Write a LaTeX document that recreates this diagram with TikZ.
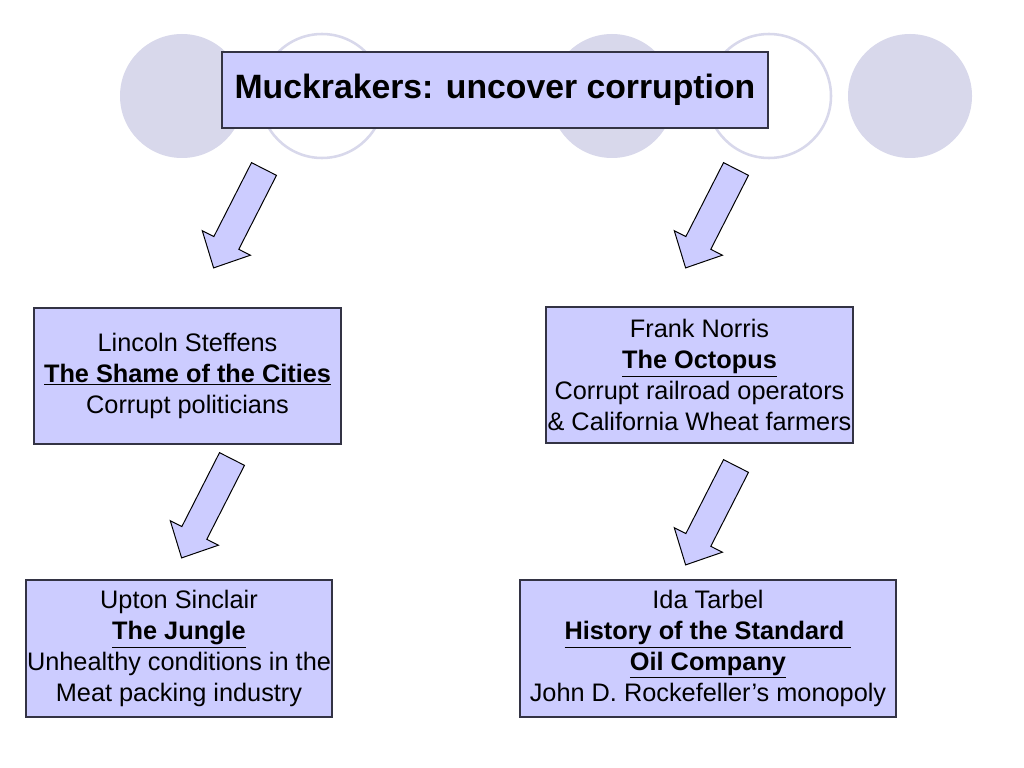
\documentclass[tikz,border=0pt]{standalone}
\usepackage{fontspec}
\setmainfont{Liberation Sans}
\usepackage{xcolor}
\usepackage{tikz}

\definecolor{cerchio}{RGB}{216,216,235}
\definecolor{riquadro}{RGB}{204,204,255}
\definecolor{bordo}{RGB}{51,51,68}

\tikzset{bigarrow/.pic={
  \draw[arrowbody] (-14,0) -- (-14,83) -- (-27,83) -- (0,111)
    -- (27,83) -- (14,83) -- (14,0) -- cycle;}}

\begin{document}
\begin{tikzpicture}[x=0.025cm, y=-0.025cm,
    disco/.style={fill=cerchio},
    anello/.style={draw=cerchio, line width=1.8pt},
    titlebox/.style={draw=bordo, fill=riquadro, line width=0.9pt,
      minimum width=13.65cm, minimum height=1.9cm, inner sep=0pt,
      font=\fontsize{24}{29}\selectfont\bfseries},
    authorbox/.style={draw=bordo, fill=riquadro, line width=0.9pt,
      align=center, inner sep=0pt, minimum height=3.4cm,
      font=\fontsize{18}{22}\selectfont},
    arrowbody/.style={draw=black, fill=riquadro, line width=0.7pt}]
        % Sfondo
        \path[fill=white] (0,0) rectangle (1024,768);

        % Cerchi decorativi
        \fill[disco] (182,96) circle (62);
        \draw[anello] (322,96) circle (62);
        \fill[disco] (612,96) circle (62);
        \draw[anello] (769,96) circle (62);
        \fill[disco] (910,96) circle (62);

        % Titolo
        \node[titlebox] (title) at (495,90) {Muckrakers: uncover corruption};

        % Frecce
        \pic[rotate=-27] at (264,169) {bigarrow};
        \pic[rotate=-27] at (736,169) {bigarrow};
        \pic[rotate=-27] at (232,459) {bigarrow};
        \pic[rotate=-27] at (736,466) {bigarrow};

        % Autori
        \node[authorbox, minimum width=7.675cm] (steffens) at (187.5,376)
          {Lincoln Steffens\\ \underline{\textbf{The Shame of the Cities}}\\
           Corrupt politicians};
        \node[authorbox, minimum width=7.675cm] (norris) at (699.5,375)
          {Frank Norris\\ \underline{\textbf{The Octopus}}\\
           Corrupt railroad operators\\ \& California Wheat farmers};
        \node[authorbox, minimum width=7.65cm, minimum height=3.425cm] (sinclair) at (179,648.5)
          {Upton Sinclair\\ \underline{\textbf{The Jungle}}\\
           Unhealthy conditions in the\\ Meat packing industry};
        \node[authorbox, minimum width=9.4cm, minimum height=3.425cm] (tarbell) at (708,648.5)
          {Ida Tarbel\\ \underline{\textbf{History of the Standard\ }}\\
           \underline{\textbf{Oil Company}}\\ John D. Rockefeller’s monopoly};
      \end{tikzpicture}
\end{document}
